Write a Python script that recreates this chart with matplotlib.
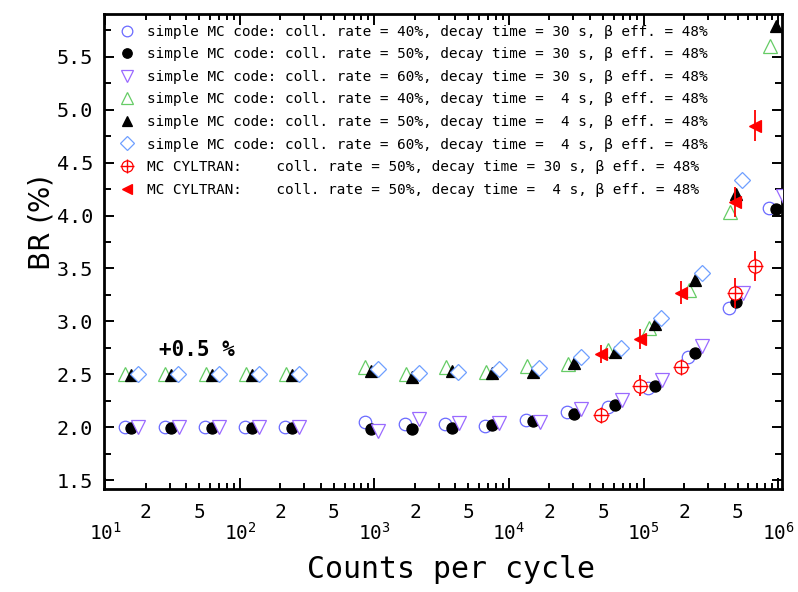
import numpy as np
import matplotlib
matplotlib.use('Agg')
import matplotlib.pyplot as plt
from matplotlib.ticker import LogLocator, FuncFormatter, MultipleLocator, FormatStrFormatter

plt.rcParams['font.family'] = ['DejaVu Sans Mono', 'DejaVu Sans']

# ---------------- data ----------------
# simple MC code, decay time 30 s
x_40_30 = [13.9, 27.6, 55, 110, 218, 845, 1690, 3340, 6680, 13400, 27100, 54300, 108000, 215000, 432000, 863000]
y_40_30 = [2.00, 2.00, 2.00, 2.00, 2.00, 2.05, 2.03, 2.03, 2.01, 2.07, 2.14, 2.19, 2.37, 2.66, 3.13, 4.07]

x_50_30 = [15.6, 31, 62, 123, 245, 950, 1900, 3750, 7500, 15000, 30500, 61000, 121000, 242000, 485000, 970000]
y_50_30 = [1.99, 1.99, 1.99, 1.99, 1.99, 1.98, 1.98, 1.99, 2.02, 2.06, 2.12, 2.21, 2.39, 2.70, 3.18, 4.06]

x_60_30 = [17.6, 35, 70, 139, 277, 1070, 2150, 4240, 8480, 17000, 34500, 68900, 137000, 273000, 548000, 1096000]
y_60_30 = [2.00, 2.00, 2.00, 2.00, 2.00, 1.96, 2.08, 2.04, 2.04, 2.05, 2.17, 2.26, 2.45, 2.77, 3.27, 4.18]

# simple MC code, decay time 4 s
x_40_4 = [14.0, 27.9, 56, 111, 220, 855, 1710, 3380, 6750, 13500, 27500, 54900, 109000, 218000, 437000, 873000]
y_40_4 = [2.50, 2.50, 2.50, 2.50, 2.50, 2.57, 2.50, 2.57, 2.52, 2.58, 2.60, 2.73, 2.94, 3.30, 4.03, 5.60]

x_50_4 = [15.6, 31, 62, 123, 245, 950, 1900, 3750, 7500, 15000, 30500, 61000, 121000, 242000, 485000, 970000]
y_50_4 = [2.49, 2.49, 2.49, 2.49, 2.49, 2.53, 2.47, 2.53, 2.51, 2.52, 2.61, 2.71, 2.97, 3.39, 4.20, 5.79]

x_60_4 = [17.5, 34.7, 69.4, 138, 274, 1060, 2130, 4200, 8400, 16800, 34200, 68300, 136000, 271000, 543000]
y_60_4 = [2.50, 2.50, 2.50, 2.50, 2.50, 2.55, 2.51, 2.52, 2.55, 2.56, 2.66, 2.75, 3.03, 3.46, 4.34]

# MC CYLTRAN
x_cyl = [48600, 94800, 191000, 475000, 670000]
y_cyl_30 = [2.11, 2.39, 2.57, 3.27, 3.52]
e_cyl_30 = [0.07, 0.10, 0.04, 0.14, 0.14]
y_cyl_4 = [2.69, 2.83, 3.27, 4.13, 4.85]
e_cyl_4 = [0.085, 0.095, 0.11, 0.14, 0.15]

labels = [
    "simple MC code: coll. rate = 40%, decay time = 30 s, \u03b2 eff. = 48%",
    "simple MC code: coll. rate = 50%, decay time = 30 s, \u03b2 eff. = 48%",
    "simple MC code: coll. rate = 60%, decay time = 30 s, \u03b2 eff. = 48%",
    "simple MC code: coll. rate = 40%, decay time =  4 s, \u03b2 eff. = 48%",
    "simple MC code: coll. rate = 50%, decay time =  4 s, \u03b2 eff. = 48%",
    "simple MC code: coll. rate = 60%, decay time =  4 s, \u03b2 eff. = 48%",
    "MC CYLTRAN:    coll. rate = 50%, decay time = 30 s, \u03b2 eff. = 48%",
    "MC CYLTRAN:    coll. rate = 50%, decay time =  4 s, \u03b2 eff. = 48%",
]

# ---------------- figure ----------------
W, H = 798, 592
fig = plt.figure(figsize=(W / 100, H / 100), dpi=100)
ax = fig.add_axes([104 / W, 1 - 489 / H, 678 / W, 475 / H])
ax.set_xscale('log')

mew = 0.9
h1, = ax.plot(x_40_30, y_40_30, 'o', ms=9, mfc='white', mec='#6a6aff', mew=mew, zorder=3)
h2, = ax.plot(x_50_30, y_50_30, 'o', ms=8, mfc='black', mec='black', mew=mew, zorder=3)
h3, = ax.plot(x_60_30, y_60_30, 'v', ms=9.5, mfc='white', mec='#9a6aff', mew=mew, zorder=3)
h4, = ax.plot(x_40_4, y_40_4, '^', ms=9.5, mfc='white', mec='#66cc66', mew=mew, zorder=3)
h5, = ax.plot(x_50_4, y_50_4, '^', ms=8, mfc='black', mec='black', mew=mew, zorder=3)
h6, = ax.plot(x_60_4, y_60_4, 'D', ms=8, mfc='white', mec='#6f9fff', mew=mew, zorder=3)

ax.errorbar(x_cyl, y_cyl_30, yerr=e_cyl_30, fmt='none', ecolor='red', elinewidth=1.3, capsize=0, zorder=4)
h7a, = ax.plot(x_cyl, y_cyl_30, 'o', ms=9.5, mfc='white', mec='red', mew=mew, zorder=5)
h7b, = ax.plot(x_cyl, y_cyl_30, '+', ms=11.5, color='red', mew=1.0, zorder=5)
ax.errorbar(x_cyl, y_cyl_4, yerr=e_cyl_4, fmt='none', ecolor='red', elinewidth=1.3, capsize=0, zorder=4)
h8, = ax.plot(x_cyl, y_cyl_4, '<', ms=9, mfc='red', mec='red', mew=mew, zorder=5)

ax.set_xlim(9.77, 1.07e6)
ax.set_ylim(1.415, 5.905)

# ticks
ax.xaxis.set_major_locator(LogLocator(base=10, numticks=12))
ax.xaxis.set_minor_locator(LogLocator(base=10, subs=np.arange(2, 10), numticks=60))
ax.xaxis.set_major_formatter(FuncFormatter(lambda v, p: r'$\mathregular{10^{%d}}$' % round(np.log10(v))))

def minor_fmt(v, p):
    lead = int(round(v / 10 ** np.floor(np.log10(v) + 1e-9)))
    return str(lead) if lead in (2, 5) else ''

ax.xaxis.set_minor_formatter(FuncFormatter(minor_fmt))
ax.yaxis.set_major_locator(MultipleLocator(0.5))
ax.yaxis.set_minor_locator(MultipleLocator(0.25))
ax.yaxis.set_major_formatter(FormatStrFormatter('%.1f'))

ax.tick_params(which='both', direction='in', top=True, right=True, width=1.4, colors='black')
ax.tick_params(axis='x', which='major', length=8, pad=24, labelsize=14)
ax.tick_params(axis='x', which='minor', length=4.5, pad=10, labelsize=14)
ax.tick_params(axis='y', which='major', length=7, pad=8, labelsize=14.5)
ax.tick_params(axis='y', which='minor', length=5)
for s in ax.spines.values():
    s.set_linewidth(2.0)

ax.set_ylabel('BR (%)', fontsize=20, family='DejaVu Sans')
ax.yaxis.set_label_coords(-0.072, 0.56)
ax.set_xlabel('Counts per cycle', fontsize=21.5)
ax.xaxis.set_label_coords(0.512, -0.139)

ax.text(48, 2.73, '+0.5 %', fontsize=15, fontweight='bold', ha='center', va='center')

handles = [h1, h2, h3, h4, h5, h6, (h7a, h7b), h8]
ax.legend(handles, labels, loc='upper left', bbox_to_anchor=(0.0233, 0.977),
          frameon=False, prop={'family': 'DejaVu Sans Mono', 'size': 10.4},
          handlelength=1.0, handletextpad=0.89, labelspacing=0.59,
          borderpad=0, borderaxespad=0, numpoints=1, markerscale=0.85)

fig.savefig('out.png', dpi=100)
